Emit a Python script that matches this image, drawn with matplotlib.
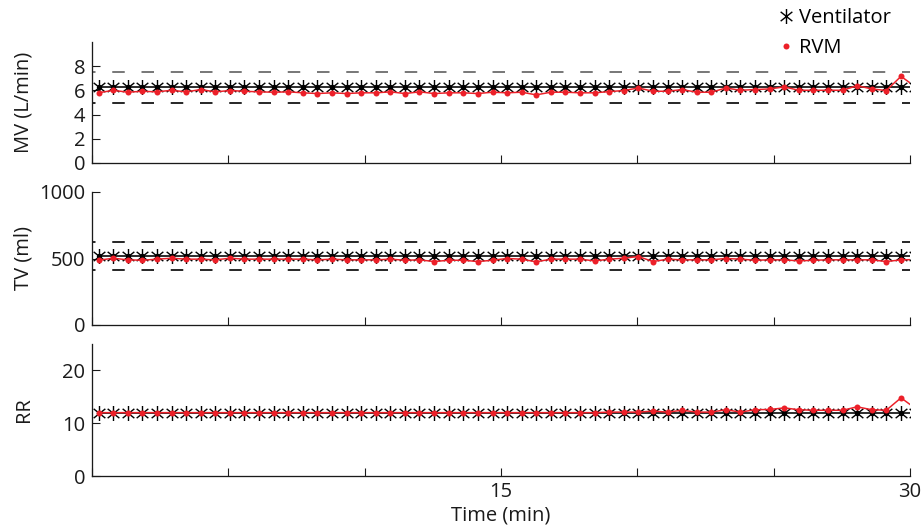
import matplotlib
matplotlib.use("Agg")
import matplotlib.pyplot as plt
from matplotlib.path import Path
from matplotlib.lines import Line2D

plt.rcParams['font.family'] = ['Open Sans', 'DejaVu Sans']
plt.rcParams['lines.scale_dashes'] = False

# ---------------- data ----------------
time_min = [0.24, 0.78, 1.31, 1.85, 2.38, 2.92, 3.45, 3.99, 4.52, 5.06,
            5.59, 6.13, 6.66, 7.20, 7.73, 8.27, 8.80, 9.34, 9.87, 10.41,
            10.94, 11.48, 12.01, 12.55, 13.08, 13.62, 14.15, 14.69, 15.22, 15.76,
            16.29, 16.83, 17.36, 17.90, 18.43, 18.97, 19.50, 20.04, 20.57, 21.11,
            21.64, 22.18, 22.71, 23.25, 23.78, 24.32, 24.85, 25.39, 25.92, 26.46,
            26.99, 27.53, 28.06, 28.60, 29.13, 29.67, 30.20]

vent_mv = [6.24, 6.24, 6.24, 6.24, 6.24, 6.24, 6.24, 6.24, 6.24, 6.24,
           6.24, 6.24, 6.24, 6.24, 6.24, 6.24, 6.24, 6.24, 6.24, 6.24,
           6.24, 6.24, 6.24, 6.24, 6.24, 6.24, 6.24, 6.24, 6.24, 6.24,
           6.24, 6.24, 6.24, 6.24, 6.24, 6.24, 6.24, 6.24, 6.24, 6.24,
           6.24, 6.24, 6.24, 6.24, 6.24, 6.24, 6.24, 6.24, 6.24, 6.24,
           6.24, 6.24, 6.24, 6.24, 6.24, 6.24, 6.24]
rvm_mv = [5.80, 6.01, 5.85, 5.93, 5.88, 6.01, 5.88, 6.07, 5.88, 5.99,
          5.93, 5.88, 5.85, 5.88, 5.80, 5.74, 5.80, 5.74, 5.80, 5.80,
          5.88, 5.74, 5.88, 5.74, 5.80, 5.80, 5.74, 5.85, 5.80, 5.85,
          5.63, 5.85, 5.85, 5.80, 5.80, 5.90, 5.99, 6.20, 5.93, 5.93,
          6.07, 5.85, 5.85, 6.20, 6.01, 6.07, 6.12, 6.29, 6.01, 6.01,
          6.01, 6.01, 6.39, 6.12, 5.99, 7.16, 6.30]

vent_tv = [520, 520, 520, 520, 520, 520, 520, 520, 520, 520,
           520, 520, 520, 520, 520, 520, 520, 520, 520, 520,
           520, 520, 520, 520, 520, 520, 520, 520, 520, 520,
           520, 520, 520, 520, 520, 520, 520, 520, 520, 520,
           520, 520, 520, 520, 520, 520, 520, 520, 520, 520,
           520, 520, 520, 520, 520, 520, 520]
rvm_tv = [487, 502, 490, 487, 495, 502, 495, 495, 490, 502,
          495, 495, 495, 495, 495, 490, 495, 490, 490, 490,
          495, 487, 490, 477, 487, 487, 477, 487, 500, 495,
          475, 495, 495, 495, 482, 495, 502, 515, 477, 495,
          490, 490, 490, 500, 495, 487, 490, 490, 482, 487,
          490, 490, 490, 490, 477, 490, 492]

vent_rr = [12, 12, 12, 12, 12, 12, 12, 12, 12, 12,
           12, 12, 12, 12, 12, 12, 12, 12, 12, 12,
           12, 12, 12, 12, 12, 12, 12, 12, 12, 12,
           12, 12, 12, 12, 12, 12, 12, 12, 12, 12,
           12, 12, 12, 12, 12, 12, 12, 12, 12, 12,
           12, 12, 12, 12, 12, 12, 12]
rvm_rr = [12.0, 12.0, 12.0, 12.0, 12.0, 12.0, 12.0, 12.0, 12.0, 12.0,
          12.0, 12.0, 12.0, 12.0, 12.0, 12.0, 12.0, 12.0, 12.0, 12.0,
          12.0, 12.0, 12.0, 12.0, 12.0, 12.0, 12.0, 12.0, 12.0, 12.0,
          12.0, 12.0, 12.0, 12.0, 12.0, 12.1, 12.1, 12.1, 12.3, 12.1,
          12.45, 12.1, 12.1, 12.55, 12.1, 12.55, 12.6, 12.9, 12.55, 12.45,
          12.45, 12.45, 13.1, 12.55, 12.45, 14.8, 12.8]

mv_limits = [7.49, 4.99]     # +/- 20 % of ventilator MV
tv_limits = [624, 416]       # +/- 20 % of ventilator TV

ylabels = ["MV (L/min)", "TV (ml)", "RR"]
ylims = [(0, 10), (0, 1000), (0, 25)]
yticks = [[0, 2, 4, 6, 8], [0, 500, 1000], [0, 10, 20]]
xticks = [0, 5, 10, 15, 20, 25, 30]
xticklabels = ["", "", "", "15", "", "", "30"]
legend_labels = ["Ventilator", "RVM"]

# ---------------- style ----------------
RED = "#EC2029"
AX_COL = "#1a1a1a"
FS = 14.5
px = 0.72  # points per pixel at 100 dpi

star = Path([(0, -1), (0, 1), (-0.78, -0.62), (0.78, 0.62), (-0.78, 0.62), (0.78, -0.62)],
            [Path.MOVETO, Path.LINETO, Path.MOVETO, Path.LINETO, Path.MOVETO, Path.LINETO])

fig = plt.figure(figsize=(9.21, 5.27), dpi=100)
L, W = 92 / 921, (910 - 92) / 921
boxes = [(42, 163), (192, 325), (344, 476)]
axes = []
for (top, bot) in boxes:
    ax = fig.add_axes([L, 1 - bot / 527, W, (bot - top) / 527])
    axes.append(ax)

vent_series = [vent_mv, vent_tv, vent_rr]
rvm_series = [rvm_mv, rvm_tv, rvm_rr]
limits = [mv_limits, tv_limits, None]

for i, ax in enumerate(axes):
    if limits[i] is not None:
        cols = ["#7a7a7a", "#2b2b2b"] if i == 0 else ["#2b2b2b", "#2b2b2b"]
        for lim, c in zip(limits[i], cols):
            ax.plot([0, 30], [lim, lim], color=c, lw=2 * px,
                    linestyle=(9 * px, (12.5 * px, 16.75 * px)), zorder=1,
                    dash_capstyle='butt')
    ax.plot(time_min, vent_series[i], color='k', lw=1.6 * px, marker=star,
            markersize=15 * px, markerfacecolor='none', markeredgecolor='k',
            markeredgewidth=1.4 * px, zorder=2)
    ax.plot(time_min, vent_series[i], linestyle='none', marker='o', color='k',
            markersize=4 * px, zorder=2)
    ax.plot(time_min, rvm_series[i], color=RED, lw=1.5 * px, marker='o',
            markersize=6 * px, markeredgewidth=0, zorder=3)

    ax.set_xlim(0, 30)
    ax.set_ylim(*ylims[i])
    ax.set_yticks(yticks[i])
    ax.set_xticks(xticks)
    if i == 2:
        ax.set_xticklabels(xticklabels)
        ax.set_xlabel("Time (min)", fontsize=FS, labelpad=2.5, color=AX_COL)
    else:
        ax.set_xticklabels([])
    for s in ['top', 'right']:
        ax.spines[s].set_visible(False)
    for s in ['left', 'bottom']:
        ax.spines[s].set_color(AX_COL)
        ax.spines[s].set_linewidth(1.3 * px)
    ax.tick_params(direction='in', length=8 * px, width=1.1 * px, colors=AX_COL,
                   labelsize=FS, pad=5)
    ax.tick_params(axis='x', pad=4)
    ax.set_ylabel(ylabels[i], fontsize=FS, color=AX_COL)
    ax.yaxis.set_label_coords(-0.071, 0.5)

handles = [Line2D([], [], linestyle='none', marker=star, markersize=15 * px,
                  markerfacecolor='none', markeredgecolor='k', markeredgewidth=1.4 * px),
           Line2D([], [], linestyle='none', marker='o', markersize=6 * px,
                  color=RED, markeredgewidth=0)]
fig.legend(handles, legend_labels, loc='upper left', bbox_to_anchor=(778 / 921, 1 - 8 / 527),
           frameon=False, fontsize=FS, handlelength=0.75, handletextpad=0.3,
           labelspacing=0.5, borderpad=0, borderaxespad=0)

fig.savefig("out.png", dpi=100)
